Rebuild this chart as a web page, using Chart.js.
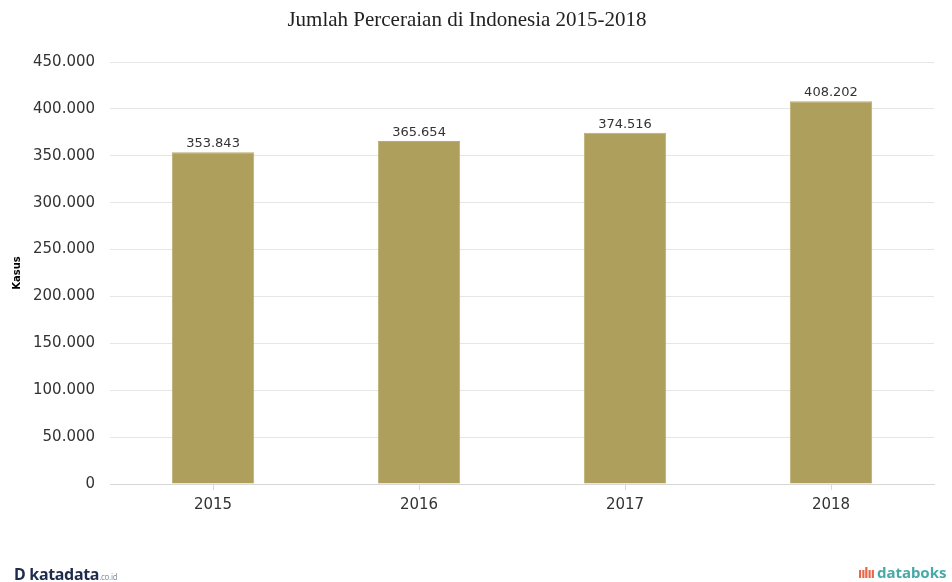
<!DOCTYPE html>
<html>
<head>
<meta charset="utf-8">
<script src="https://cdn.jsdelivr.net/npm/chart.js@4"></script>
<style>
  body { margin: 0; background: #fff; }
  #wrap { position: relative; width: 952px; height: 582px; overflow: hidden; }
  #logo-left { position: absolute; left: 14px; top: 563px; font-family: "Noto Sans", sans-serif; font-weight: bold; font-size: 16px; color: #1d2c4c; white-space: nowrap; letter-spacing: -0.3px; }
  #logo-left small { font-size: 8px; color: #8a96a8; font-weight: normal; }
  #logo-right { position: absolute; left: 858px; top: 562px; font-family: "Noto Sans", sans-serif; font-weight: bold; font-size: 15px; color: #45aaa8; white-space: nowrap; }
  #logo-right span { color: #e8674a; font-size: 14px; letter-spacing: -1px; margin-right: 3px; }
</style>
</head>
<body>
<div id="wrap">
  <canvas id="chart" width="952" height="582"></canvas>
  <div id="logo-left">D katadata<small>.co.id</small></div>
  <div id="logo-right"><span>ıılıı</span>databoks</div>
</div>
<script>
const years = ['2015', '2016', '2017', '2018'];
const cases = [353843, 365654, 374516, 408202];
const yTicks = [0, 50000, 100000, 150000, 200000, 250000, 300000, 350000, 400000, 450000];
const chartTitle = 'Jumlah Perceraian di Indonesia 2015-2018';
const axisTitle = 'Kasus';

function fmt(v) {
  return v.toLocaleString('en-US').replace(/,/g, '.');
}

// title, value above every bar, rotated axis title
const extras = {
  id: 'extras',
  afterDatasetsDraw(chart) {
    const ctx = chart.ctx;
    const meta = chart.getDatasetMeta(0);
    ctx.save();
    ctx.textAlign = 'center';

    ctx.font = '21px "Liberation Serif"';
    ctx.fillStyle = '#222';
    ctx.textBaseline = 'middle';
    ctx.fillText(chartTitle, 467, 20);

    ctx.font = '13px "DejaVu Sans"';
    ctx.fillStyle = '#333';
    ctx.textBaseline = 'bottom';
    meta.data.forEach((bar, i) => {
      ctx.fillText(fmt(cases[i]), bar.x, bar.y - 2);
    });

    const area = chart.chartArea;
    ctx.translate(17, (area.top + area.bottom) / 2);
    ctx.rotate(-Math.PI / 2);
    ctx.font = 'bold 10px "DejaVu Sans"';
    ctx.fillStyle = '#000';
    ctx.textBaseline = 'middle';
    ctx.fillText(axisTitle, 0, 0);
    ctx.restore();
  }
};

const ctx = document.getElementById('chart').getContext('2d');
const chart = new Chart(ctx, {
  type: 'bar',
  data: {
    labels: years,
    datasets: [{
      label: axisTitle,
      data: cases,
      backgroundColor: '#aea05c',
      borderColor: '#b9ac6c',
      borderWidth: 1,
      categoryPercentage: 1,
      barPercentage: 0.4
    }]
  },
  options: {
    responsive: false,
    animation: false,
    layout: { padding: { left: 18, right: 18, top: 62, bottom: 62 } },
    plugins: {
      legend: { display: false },
      tooltip: { enabled: false },
      title: { display: false }
    },
    scales: {
      x: {
        grid: { display: true, drawOnChartArea: false, drawTicks: true, tickLength: 6, offset: false, color: '#d8d8d8' },
        border: { display: true, color: '#d8d8d8' },
        ticks: { font: { family: '"DejaVu Sans"', size: 15 }, color: '#333', padding: 6 }
      },
      y: {
        min: 0,
        max: 450000,
        afterBuildTicks(axis) { axis.ticks = yTicks.map(v => ({ value: v })); },
        grid: { color: '#e6e6e6', drawTicks: false },
        border: { display: false },
        ticks: {
          font: { family: '"DejaVu Sans"', size: 15 },
          color: '#333',
          padding: 15,
          callback: v => fmt(v)
        }
      }
    }
  },
  plugins: [extras]
});
</script>
</body>
</html>
